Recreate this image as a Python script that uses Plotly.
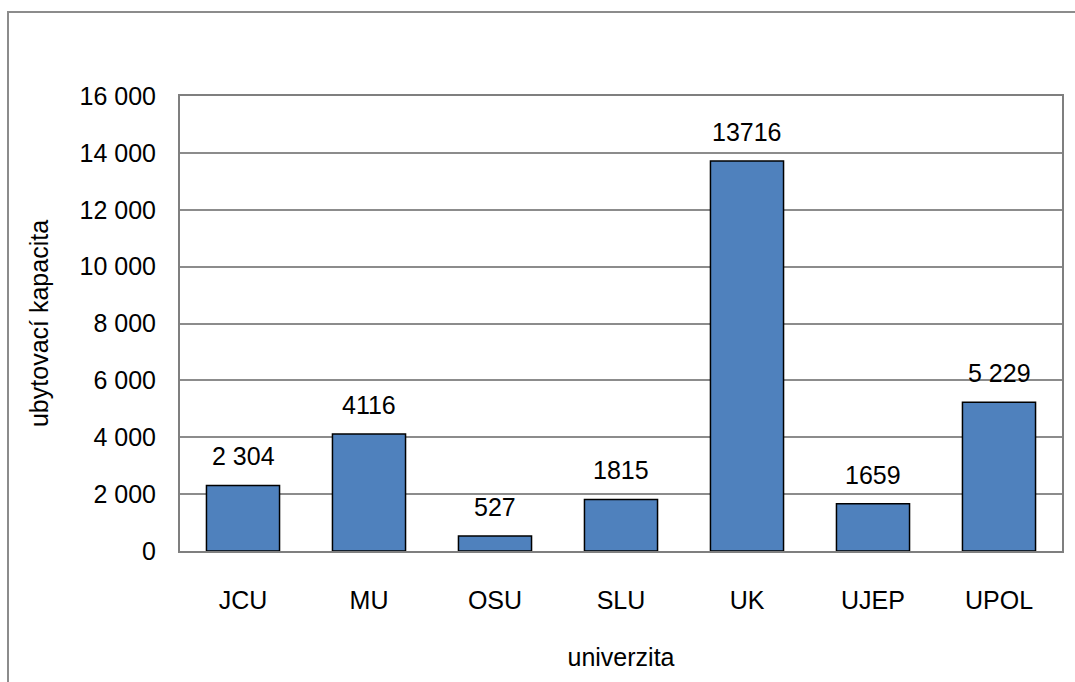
import plotly.graph_objects as go

categories = ["JCU", "MU", "OSU", "SLU", "UK", "UJEP", "UPOL"]
values = [2304, 4116, 527, 1815, 13716, 1659, 5229]
value_labels = ["2 304", "4116", "527", "1815", "13716", "1659", "5 229"]
y_ticks = [0, 2000, 4000, 6000, 8000, 10000, 12000, 14000, 16000]
y_tick_labels = ["0", "2 000", "4 000", "6 000", "8 000", "10 000", "12 000", "14 000", "16 000"]

W, H = 1075, 682
L, R, T, B = 180, 13, 96, 131
pw, ph = W - L - R, H - T - B

FONT = "Liberation Sans, Arial, sans-serif"
FS = 25

fig = go.Figure()
fig.add_trace(go.Bar(
    x=categories, y=values,
    marker=dict(color="#4F81BD", line=dict(color="#000000", width=1.5)),
    width=0.58,
    hoverinfo="skip",
))

for c, v, t in zip(categories, values, value_labels):
    fig.add_annotation(x=c, y=v, text=t, showarrow=False, yanchor="middle",
                       yshift=29, font=dict(family=FONT, size=FS, color="#000000"))

# outer chart border
fig.add_shape(type="rect", xref="paper", yref="paper",
              x0=(8 - L) / pw, x1=(W + 5 - L) / pw,
              y0=-(H + 5 - T - ph) / ph, y1=(H - 12 - B) / ph,
              line=dict(color="#8C8C8C", width=2), fillcolor="rgba(0,0,0,0)", layer="below")

fig.update_layout(
    width=W, height=H,
    margin=dict(l=L, r=R, t=T, b=B, pad=0),
    paper_bgcolor="white", plot_bgcolor="white",
    showlegend=False,
    font=dict(family=FONT, size=FS, color="#000000"),
    xaxis=dict(
        showline=True, linecolor="#7F7F7F", linewidth=2, mirror=True,
        showgrid=False, ticks="", ticklabelstandoff=26,
        title=dict(text="univerzita", standoff=35, font=dict(size=FS)),
        tickfont=dict(size=FS),
    ),
    yaxis=dict(
        range=[0, 16000], tickvals=y_ticks, ticktext=y_tick_labels,
        showline=True, linecolor="#7F7F7F", linewidth=2, mirror=True,
        showgrid=True, gridcolor="#8C8C8C", gridwidth=1.5,
        zeroline=False, ticks="", ticklabelstandoff=17,
        title=dict(text="ubytovací kapacita", standoff=24, font=dict(size=FS)),
        tickfont=dict(size=FS),
    ),
)

fig.write_html("out.html", config={"displayModeBar": False},
               post_script="document.body.style.margin='0';document.body.style.overflow='hidden';")
